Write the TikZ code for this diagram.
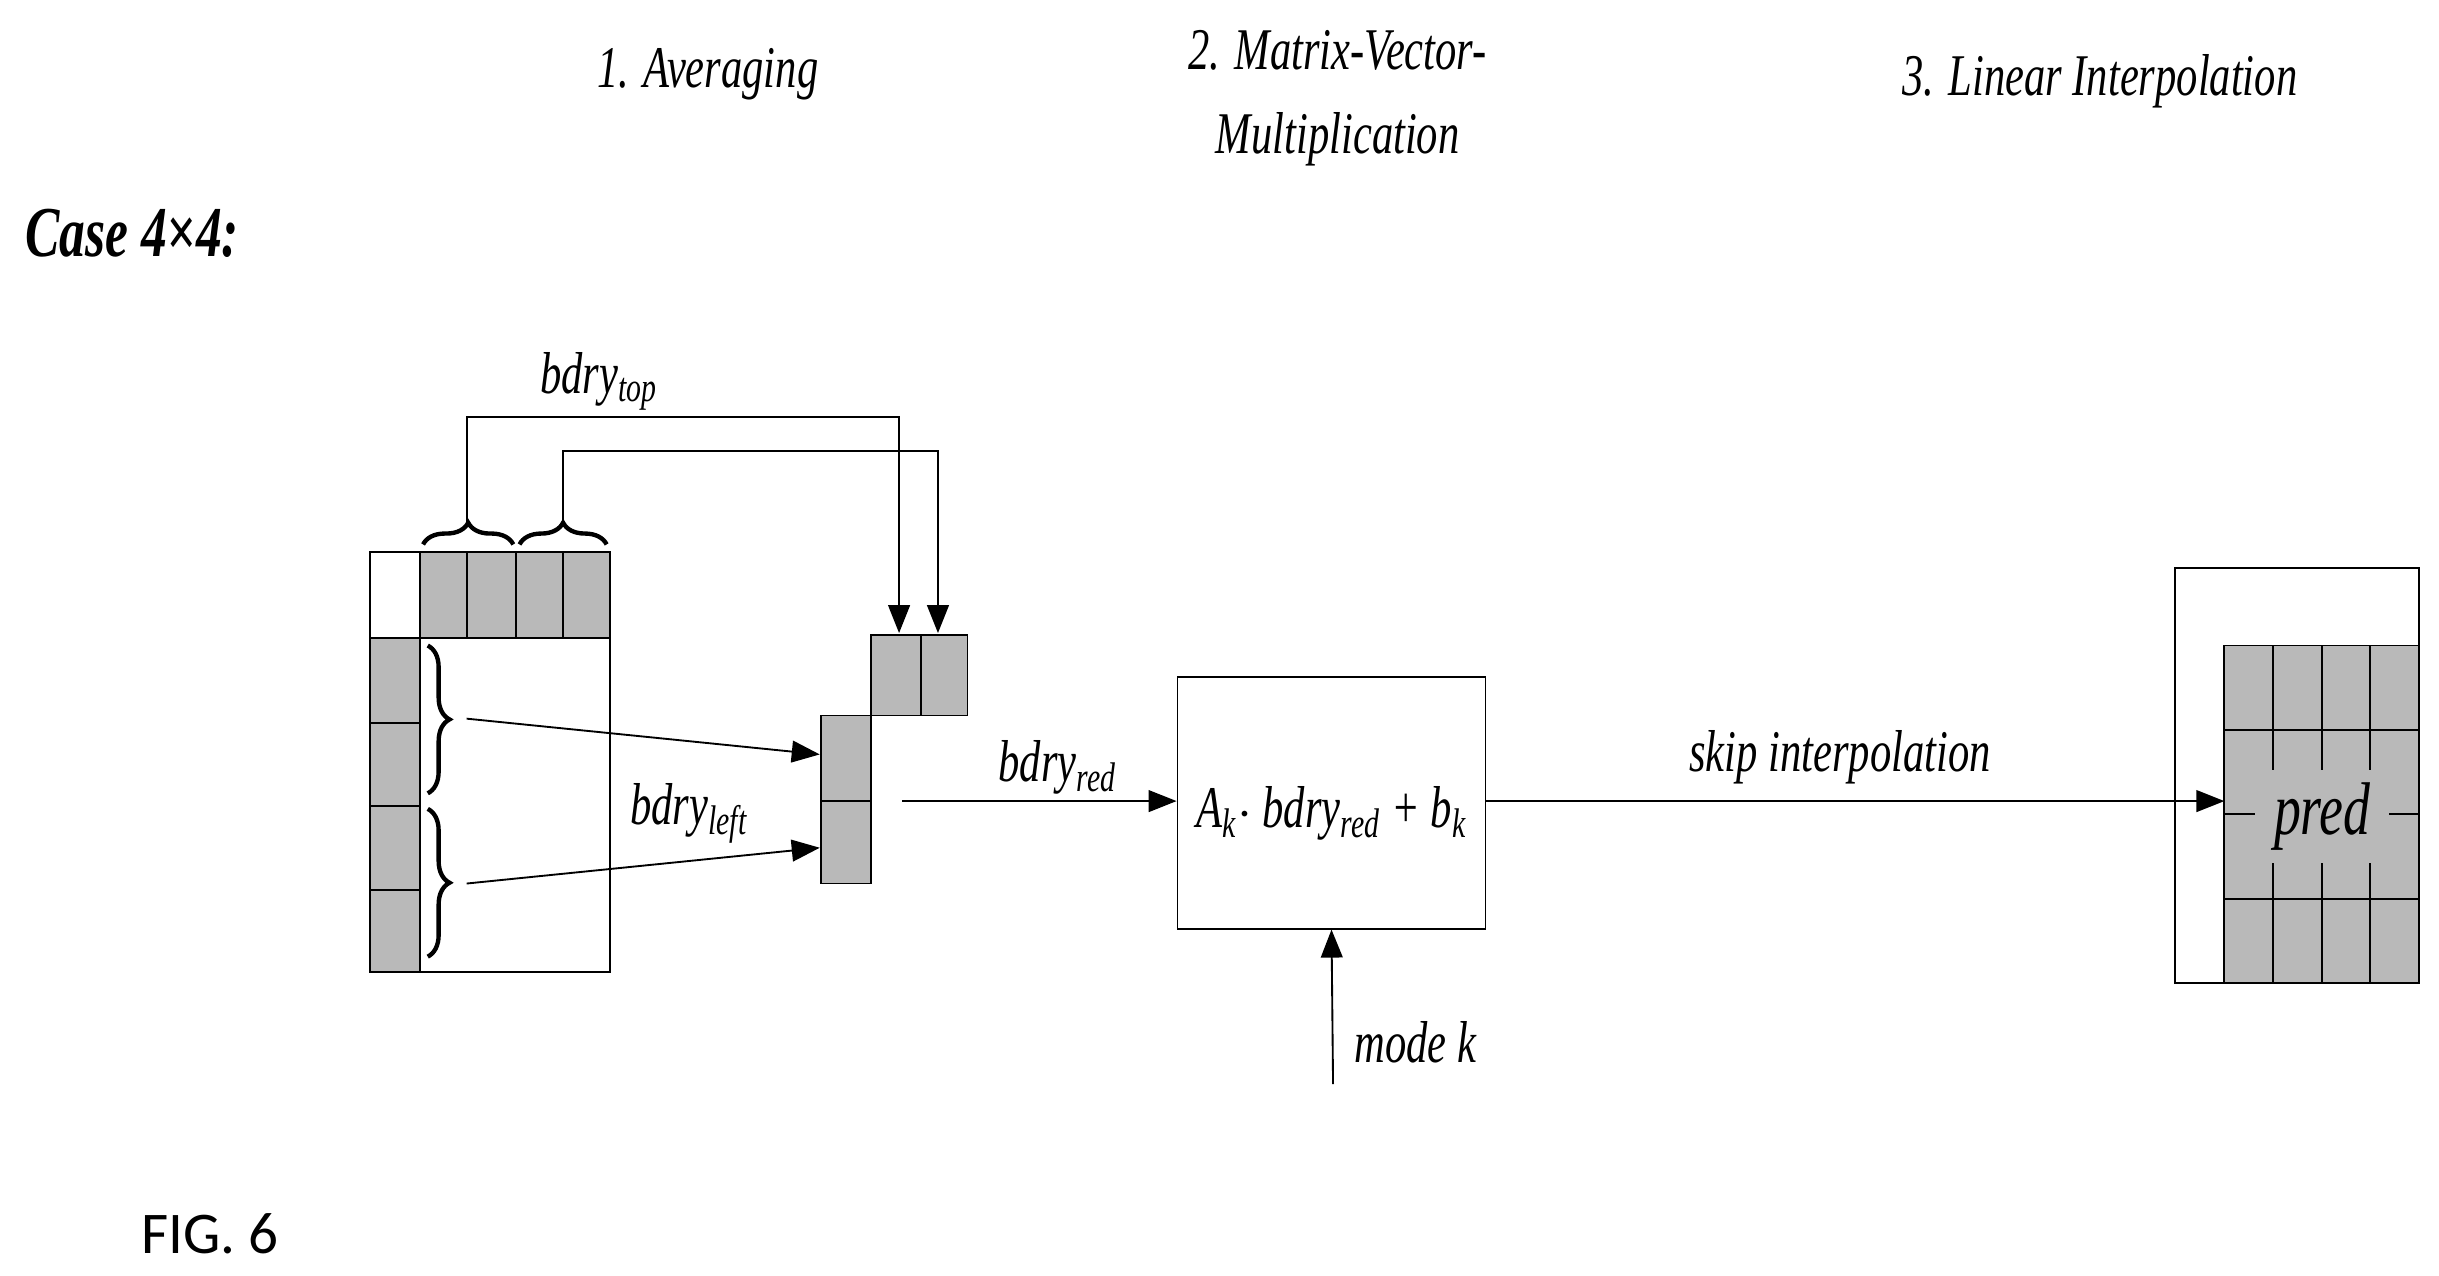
\documentclass[tikz,border=0pt]{standalone}
\usepackage{fontspec}
\setmainfont{Liberation Serif}
\newfontfamily\cond{Liberation Serif}[FakeStretch=0.72]
\newfontfamily\figf{Carlito}
\usetikzlibrary{arrows.meta,decorations.pathreplacing}
\begin{document}
\begin{tikzpicture}[x=0.5pt,y=-0.5pt,
  ln/.style={line width=0.6pt},
  arr/.style={ln,-{Triangle[length=9pt,width=7pt]}},
  cell/.style={draw,line width=0.6pt,fill=gray!55},
  lab/.style={font=\cond\itshape\fontsize{19}{21}\selectfont,inner sep=0},
  br/.style={decorate,decoration={brace,amplitude=7pt},line width=1.4pt}]
\useasboundingbox (0,0) rectangle (1568,820);
% titles
\node[lab] (t1) at (455,48) {1. Averaging};
\node[lab,align=center] (t2) at (860,63) {2. Matrix-Vector-\\[6pt]Multiplication};
\node[lab] (t3) at (1350,52) {3. Linear Interpolation};
\node[lab,font=\cond\bfseries\itshape\fontsize{23}{25}\selectfont] (case) at (85,150) {Case 4×4:};
% left block
\draw[ln] (238,355) rectangle (392,625);
\foreach \x in {270,300,332,362} \draw[cell] (\x,355) rectangle ++(\ifnum\x=300 32\else 30\fi,55);
\draw[cell] (270,355) rectangle (300,410);
\draw[cell] (300,355) rectangle (332,410);
\draw[cell] (332,355) rectangle (362,410);
\draw[cell] (362,355) rectangle (392,410);
\draw[cell] (238,410) rectangle (270,465);
\draw[cell] (238,465) rectangle (270,518);
\draw[cell] (238,518) rectangle (270,572);
\draw[cell] (238,572) rectangle (270,625);
% braces
\draw[br] (272,350) -- (330,350) coordinate[pos=0.5] (b1);
\draw[br] (334,350) -- (390,350) coordinate[pos=0.5] (b2);
\draw[br] (275,415) -- (275,510);
\draw[br] (275,520) -- (275,615);
\coordinate (bt1) at (300,337); \coordinate (bt2) at (362,337);
\coordinate (bl1) at (300,462); \coordinate (bl2) at (300,568);
% reduced cells
\draw[cell] (560,408) rectangle (592,460) node[midway] (rt1) {};
\draw[cell] (592,408) rectangle (622,460) node[midway] (rt2) {};
\draw[cell] (528,460) rectangle (560,515) node[midway] (rl1) {};
\draw[cell] (528,515) rectangle (560,568) node[midway] (rl2) {};
\draw[arr] (bt1) -- (300,268) -- (578,268) -- (578,407);
\draw[arr] (bt2) -- (362,290) -- (603,290) -- (603,407);
\draw[arr] (bl1) -- (527,485);
\draw[arr] (bl2) -- (527,545);
\node[lab] (ltop) at (385,245) {bdry\textsubscript{top}};
\node[lab] (lleft) at (443,523) {bdry\textsubscript{left}};
% matrix box
\node[draw,ln,minimum width=99pt,minimum height=81pt,inner sep=0] (A) at (856,516) {};
\node[lab] at (856,523) {A\textsubscript{k}$\cdot$ bdry\textsubscript{red} + b\textsubscript{k}};
\coordinate (s) at (580,515);
\draw[arr] (s) -- (A.west |- s);
\node[lab] (lred) at (680,493) {bdry\textsubscript{red}};
\coordinate (m) at (857,697);
\draw[arr] (m) -- (A.south);
\node[lab] (lmode) at (910,670) {mode k};
% right block
\draw[ln] (1398,365) rectangle (1555,632);
\foreach \i in {0,1,2,3} \foreach \j in {0,1,2,3}
  \draw[cell] (1430+\i*31.25,415+\j*54.25) rectangle ++(31.25,54.25);
\node[lab,fill=gray!55,inner xsep=6pt,inner ysep=4pt] (pred) at (1493,525) {\fontsize{24}{26}\selectfont pred};
\draw[arr] (A.east |- s) -- (1430,515);
\node[lab] (lskip) at (1183,487) {skip interpolation};
\node[font=\figf\fontsize{19}{21}\selectfont] (fig) at (135,793) {FIG. 6};
\end{tikzpicture}
\end{document}
